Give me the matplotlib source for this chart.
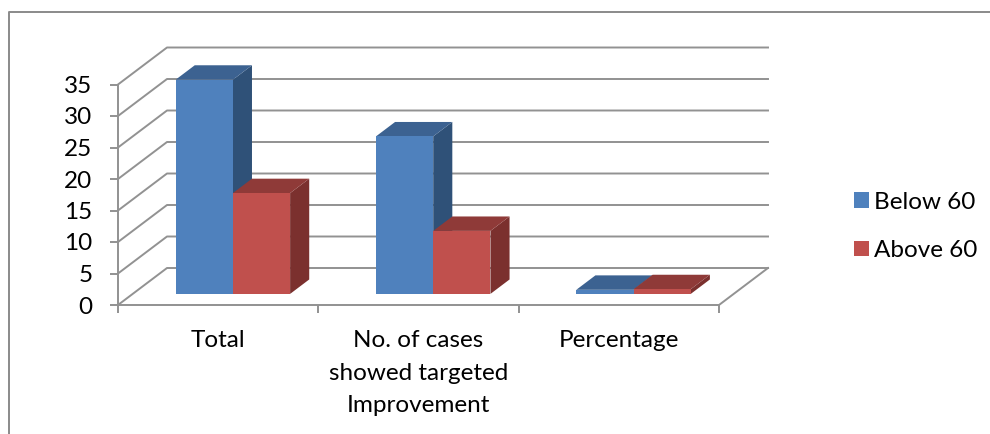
import matplotlib
matplotlib.use("Agg")
import matplotlib.pyplot as plt
from matplotlib.lines import Line2D
from matplotlib.patches import Patch, Polygon

plt.rcParams["font.family"] = ["Lato", "DejaVu Sans"]

categories = ["Total", "No. of cases\nshowed targeted\nImprovement", "Percentage"]
series_names = ["Below 60", "Above 60"]
below_60 = [34, 25, 0.65]
above_60 = [16, 10, 0.75]
y_ticks = [0, 5, 10, 15, 20, 25, 30, 35]

W, H = 990, 434
GRAY = "#929292"
FRONT = ["#4f81bd", "#c0504d"]
TOP = ["#3c6291", "#8f3a38"]
SIDE = ["#2f5178", "#7b302e"]
LW = 1.4
FS = 17.5

# fake 3d: depth 1 = back wall, expressed in data units
DX = 49 / 200.33
DY = 37 / 6.3
BAR_W = 1 / 3.5
BAR_START = 0.2143
DEPTH_0, DEPTH_1 = 0.3, 0.69


def proj(x, y, d):
    return (x + d * DX, y + d * DY)


fig = plt.figure(figsize=(W / 100, H / 100), dpi=100)
ax = fig.add_axes([118 / W, 1 - 305 / H, 601 / W, 220.5 / H])
ax.set_xlim(0, len(categories))
ax.set_ylim(0, 35)
ax.patch.set_visible(False)

for name in ["top", "right"]:
    ax.spines[name].set_visible(False)
for name in ["left", "bottom"]:
    ax.spines[name].set_color(GRAY)
    ax.spines[name].set_linewidth(LW)

ax.set_yticks(y_ticks)
ax.set_xticks(range(len(categories) + 1))
ax.set_xticklabels([])
ax.set_xticks([0.5, 1.5, 2.5], minor=True)
ax.set_xticklabels(categories, minor=True, linespacing=1.68, va="top")
ax.tick_params(axis="both", which="major", color=GRAY, width=LW, length=6, labelsize=FS, labelcolor="black")
ax.tick_params(axis="y", which="major", pad=12.5)
ax.tick_params(axis="x", which="minor", length=0, labelsize=FS, pad=18, labelcolor="black")

# walls and floor
for v in y_ticks:
    a = proj(0, v, 0)
    b = proj(0, v, 1)
    c = proj(len(categories), v, 1)
    ax.plot([a[0], b[0], c[0]], [a[1], b[1], c[1]], color=GRAY, lw=LW, clip_on=False, zorder=1)
a = proj(len(categories), 0, 0)
b = proj(len(categories), 0, 1)
ax.plot([a[0], b[0]], [a[1], b[1]], color=GRAY, lw=LW, clip_on=False, zorder=1)

# bars, left to right
z = 3
for i in range(len(categories)):
    for j, vals in enumerate([below_60, above_60]):
        v = vals[i]
        x0 = i + BAR_START + j * BAR_W
        x1 = x0 + BAR_W
        front = [proj(x0, 0, DEPTH_0), proj(x1, 0, DEPTH_0), proj(x1, v, DEPTH_0), proj(x0, v, DEPTH_0)]
        top = [proj(x0, v, DEPTH_0), proj(x1, v, DEPTH_0), proj(x1, v, DEPTH_1), proj(x0, v, DEPTH_1)]
        side = [proj(x1, 0, DEPTH_0), proj(x1, 0, DEPTH_1), proj(x1, v, DEPTH_1), proj(x1, v, DEPTH_0)]
        ax.add_patch(Polygon(side, fc=SIDE[j], ec="none", clip_on=False, zorder=z))
        ax.add_patch(Polygon(top, fc=TOP[j], ec="none", clip_on=False, zorder=z))
        ax.add_patch(Polygon(front, fc=FRONT[j], ec="none", clip_on=False, zorder=z))
        z += 1

# chart frame, only left and top edges show in the source
fig.add_artist(Line2D([9 / W, 9 / W, 1], [0, 1 - 12 / H, 1 - 12 / H], color="#8a8a8a", lw=LW))

handles = [Patch(fc=FRONT[k], ec="none", label=series_names[k]) for k in range(2)]
fig.legend(
    handles=handles,
    loc="center left",
    bbox_to_anchor=(854 / W, 1 - 226.5 / H),
    frameon=False,
    fontsize=FS,
    handlelength=0.617,
    handleheight=0.617,
    handletextpad=0.2,
    labelspacing=1.12,
    borderpad=0,
    borderaxespad=0,
)

fig.savefig("out.png", dpi=100)
plt.close(fig)
